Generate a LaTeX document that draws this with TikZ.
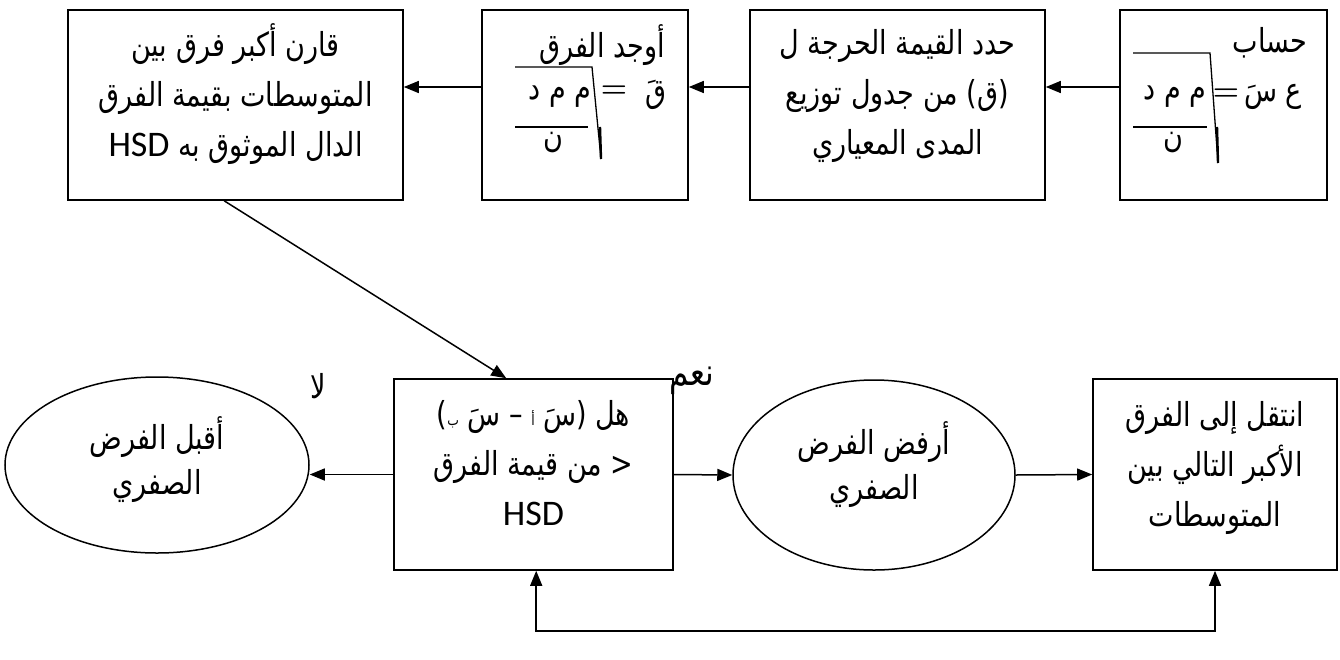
\documentclass[tikz,border=0pt]{standalone}
\usepackage{fontspec}
\newfontfamily\arabicfont[Script=Arabic,FakeStretch=0.82]{DejaVu Sans}
\newfontfamily\latinfont{Carlito}
\TeXXeTstate=1
\usetikzlibrary{arrows.meta,shapes.geometric}
\newcommand{\hsd}{{\latinfont\fontsize{36}{36}\selectfont HSD}}
\tikzset{
  box/.style={draw, line width=1.6pt, rectangle, inner sep=0pt},
  oval/.style={draw, line width=1.5pt, ellipse, inner sep=0pt},
  mtext/.style={inner sep=0pt, align=center, font=\arabicfont\fontsize{33}{50}\selectfont},
  otext/.style={inner sep=0pt, align=center, font=\arabicfont\fontsize{33}{45}\selectfont},
  txt/.style={inner sep=0pt, font=\arabicfont\fontsize{33}{36}\selectfont},
  rad/.style={line width=1.3pt},
  arr/.style={line width=1.5pt, -{Triangle[length=15pt,width=12pt]}},
}
\begin{document}
\begin{tikzpicture}[x=1pt,y={(0pt,-1pt)}]
\useasboundingbox (0,0) rectangle (1340,659);

% top row boxes
\node[box, minimum width=207pt, minimum height=190pt] (calc) at (1223.5,105) {};
\node[box, minimum width=295pt, minimum height=190pt] (crit) at (897.5,105) {};
\node[box, minimum width=206pt, minimum height=190pt] (diff) at (585,105) {};
\node[box, minimum width=335pt, minimum height=190pt] (comp) at (235.5,105) {};

\node[mtext] (critT) at ([yshift=9pt]crit.center)
  {\beginR حدد القيمة الحرجة ل\endR\\ \beginR (ق) من جدول توزيع\endR\\ \beginR المدى المعياري\endR};
\node[mtext] (compT) at ([yshift=11pt]comp.center)
  {\beginR قارن أكبر فرق بين\endR\\ \beginR المتوسطات بقيمة الفرق\endR\\ \beginR الدال الموثوق به \beginL\hsd\endL\endR};

% formula in box 1
\node[txt] (t1) at (1270,43) {\beginR حساب\endR};
\node[txt] (t1a) at (1273,97) {\beginR ع سَ\endR};
\node[txt, font=\fontsize{30}{30}\selectfont\bfseries] (t1eq) at (1226,95) {=};
\node[txt] (t1n) at (1175,97) {\beginR م م د\endR};
\node[txt] (t1d) at (1173,143) {\beginR ن\endR};
\coordinate (r1a) at (1133,53);
\coordinate (r1b) at (1210,53);
\coordinate (r1c) at (1218,163);
\coordinate (r1d) at (1217,127);
\coordinate (f1a) at (1133,127);
\coordinate (f1b) at (1207,127);
\draw[rad] (r1a) -- (r1b) -- (r1c);
\draw[line width=2.4pt] (r1d) -- (r1c);
\draw[rad] (f1a) -- (f1b);

% formula in box 3
\node[txt] (t3) at (602,45) {\beginR أوجد الفرق\endR};
\node[txt] (t3a) at (656,95) {\beginR قَ\endR};
\node[txt, font=\fontsize{30}{30}\selectfont\bfseries] (t3eq) at (614,92) {=};
\node[txt] (t3n) at (560,97) {\beginR م م د\endR};
\node[txt] (t3d) at (553,143) {\beginR ن\endR};
\coordinate (r3a) at (515,67);
\coordinate (r3b) at (592,67);
\coordinate (r3c) at (601,159);
\coordinate (r3d) at (600,127);
\coordinate (f3a) at (515,127);
\coordinate (f3b) at (588,127);
\draw[rad] (r3a) -- (r3b) -- (r3c);
\draw[line width=2.4pt] (r3d) -- (r3c);
\draw[rad] (f3a) -- (f3b);

% bottom row
\node[oval, minimum width=304pt, minimum height=176pt] (acc) at (157,465) {};
\node[box, minimum width=279pt, minimum height=191pt] (dec) at (533.5,474.5) {};
\node[oval, minimum width=282pt, minimum height=190pt] (rej) at (874,475) {};
\node[box, minimum width=244pt, minimum height=191pt] (next) at (1215,474.5) {};

\node[otext] (accT) at ([yshift=5pt]acc.center)
  {\beginR أقبل الفرض\endR\\ \beginR الصفري\endR};
\node[mtext] (decT) at ([yshift=11pt]dec.center)
  {\beginR هل (سَ {\fontsize{15}{15}\selectfont أ} – سَ {\fontsize{15}{15}\selectfont ب})\endR\\
   \beginR \textless\ من قيمة الفرق\endR\\ \hsd};
\node[otext] (rejT) at ([yshift=10pt]rej.center)
  {\beginR أرفض الفرض\endR\\ \beginR الصفري\endR};
\node[mtext] (nextT) at ([yshift=7pt]next.center)
  {\beginR انتقل إلى الفرق\endR\\ \beginR الأكبر التالي بين\endR\\ \beginR المتوسطات\endR};

\node[txt] (no) at (318,386) {\beginR لا\endR};
\node[txt, font=\arabicfont\fontsize{38}{40}\selectfont] (yes) at (692,381) {\beginR نعم\endR};

% connectors top row
\draw[arr] ([yshift=18pt]calc.west) -- ([yshift=18pt]crit.east);
\draw[arr] ([yshift=18pt]crit.west) -- ([yshift=18pt]diff.east);
\draw[arr] ([yshift=18pt]diff.west) -- ([yshift=18pt]comp.east);
% diagonal
\draw[arr] ([xshift=157pt]comp.south west) -- ([xshift=113pt]dec.north west);
% bottom row
\draw[arr] (dec.west) -- (dec.west -| acc.east);
\draw[arr] (dec.east) -- (rej.west);
\draw[arr] (rej.east) -- (next.west);
% loop
\coordinate (loopL) at ([xshift=143pt]dec.south west);
\draw[line width=1.5pt, {Triangle[length=15pt,width=12pt]}-{Triangle[length=15pt,width=12pt]}]
  (loopL) -- ++(0,60) -| (next.south);
\end{tikzpicture}
\end{document}
